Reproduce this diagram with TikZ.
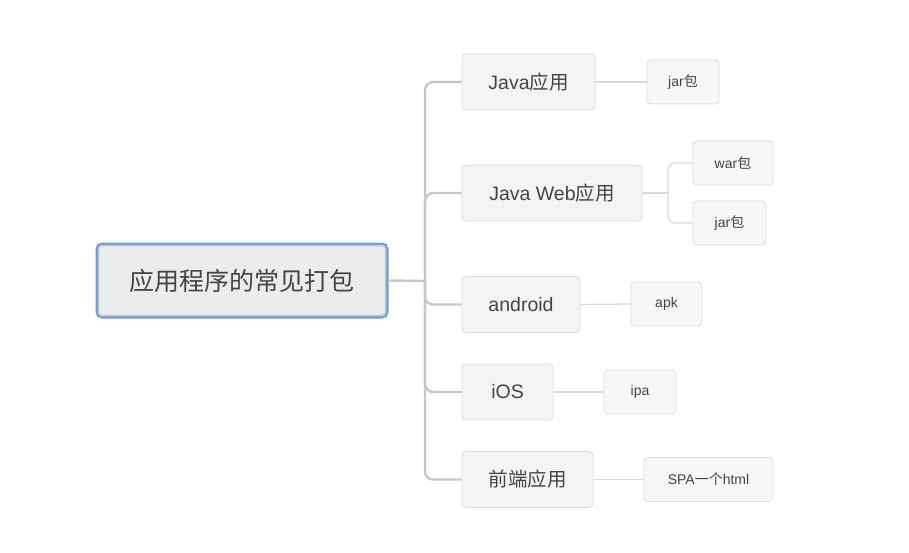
\documentclass[tikz,border=0pt]{standalone}
\usepackage{fontspec}
\setmainfont{Liberation Sans}
\newfontfamily\cjk{Noto Sans CJK SC}
\definecolor{raizazul}{HTML}{6A9CE2}
\definecolor{texto}{HTML}{444444}
\definecolor{lineagris}{HTML}{C6C6C6}
\definecolor{lineaclara}{HTML}{DADADA}
\tikzset{
  raiz/.style={draw=raizazul, line width=3pt, fill=black!7.5, rounded corners=5pt,
    minimum width=290pt, minimum height=73pt, text=texto, font=\fontsize{25}{30}\selectfont},
  rama/.style={draw=black!14, line width=0.8pt, fill=black!4.5, rounded corners=4pt,
    minimum height=56pt, text=texto, font=\fontsize{19.5}{23}\selectfont},
  hoja/.style={draw=black!14, line width=0.8pt, fill=black!3, rounded corners=4pt,
    minimum height=44pt, text=texto, font=\fontsize{14}{17}\selectfont},
  tronco/.style={draw=lineagris, line width=2.4pt, rounded corners=8pt},
  enlace/.style={draw=lineaclara, line width=1.3pt, rounded corners=7pt}
}
\begin{document}
\begin{tikzpicture}[x=1pt, y=-1pt]
    \useasboundingbox (0,0) rectangle (909,553);

    % Nodo raíz
    \node[raiz] (root) at (242, 280.5) {\cjk 应用程序的常见打包};
    \draw[lineagris, line width=1.5pt, rounded corners=3pt]
      ([shift={(3,3)}]root.north west) rectangle ([shift={(-3,-3)}]root.south east);

    % Primer nivel
    \node[rama, minimum width=133pt] (java) at (528.5, 82) {Java{\cjk 应用}};
    \node[rama, minimum width=180pt] (web) at (552, 193) {Java Web{\cjk 应用}};
    \node[rama, minimum width=118pt] (android) at (521, 304.5) {android};
    \node[rama, minimum width=91pt] (ios) at (507.5, 392) {iOS};
    \node[rama, minimum width=131pt] (front) at (527.5, 479.5) {\cjk 前端应用};

    % Segundo nivel
    \node[hoja, minimum width=72pt] (jar) at (683, 82) {jar{\cjk 包}};
    \node[hoja, minimum width=80pt] (war) at (733, 163) {war{\cjk 包}};
    \node[hoja, minimum width=73pt] (webjar) at (729.5, 223) {jar{\cjk 包}};
    \node[hoja, minimum width=71pt] (apk) at (666.5, 304) {apk};
    \node[hoja, minimum width=72pt] (ipa) at (640, 392) {ipa};
    \node[hoja, minimum width=129pt] (spa) at (708.5, 479.5) {SPA{\cjk 一个}html};

    % Tronco principal
    \coordinate (tr) at (425, 281);
    \draw[tronco] (root.east) -- (tr);
    \foreach \n in {java, web, android, ios, front}
      \draw[tronco] (tr) |- (\n.west);

    % Enlaces a las hojas
    \draw[enlace] (java.east) -- (jar.west);
    \coordinate (wj) at (668, 193);
    \draw[enlace] (web.east) -- (wj);
    \draw[enlace] (wj) |- (war.west);
    \draw[enlace] (wj) |- (webjar.west);
    \draw[enlace] (android.east) -- (apk.west);
    \draw[enlace] (ios.east) -- (ipa.west);
    \draw[enlace] (front.east) -- (spa.west);
  \end{tikzpicture}
\end{document}
